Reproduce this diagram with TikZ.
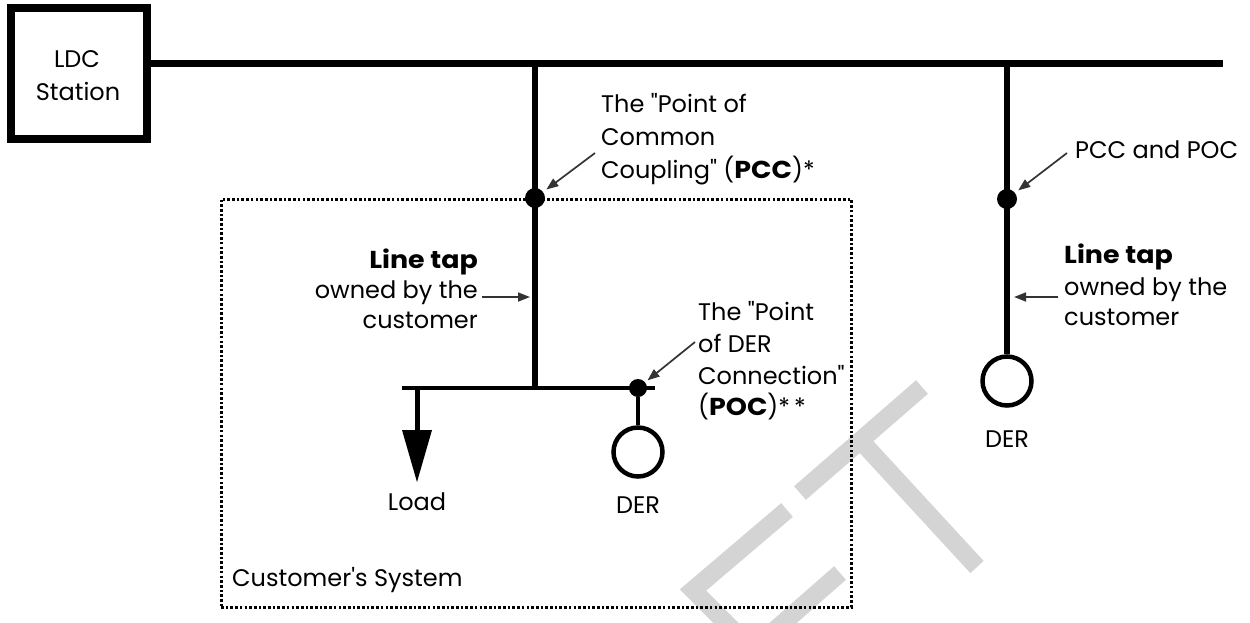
\documentclass[tikz,border=0pt]{standalone}
\usepackage{fontspec}
\newfontfamily\popfont{Poppins}
\usetikzlibrary{arrows.meta}
\newcommand{\hv}[1]{\scalebox{1.12}[1.02]{\textbf{#1}}}
\begin{document}
\begin{tikzpicture}[x=1pt,y=-1pt,
  bus/.style={line width=7pt},
  tapline/.style={line width=6pt},
  thinbus/.style={line width=4.5pt},
  dotnode/.style={circle, fill=black, inner sep=0pt, minimum size=20pt},
  gen/.style={circle, draw=black, line width=4.5pt, inner sep=0pt, minimum size=49pt},
  pointer/.style={line width=1.7pt, draw=black!80, -{Triangle[length=12pt,width=9pt]}},
  lbl/.style={inner sep=0pt, font=\popfont\fontsize{24}{30}\selectfont},
  wm/.style={line width=18pt, draw=black!17}
]
\clip (0,0) rectangle (1250,622);
\fill[white] (0,0) rectangle (1250,622);

% watermark
\draw[wm] (922,387) -- (800,493);
\draw[wm] (860,440) -- (977,567);
\draw[wm] (787,510) -- (693,590) -- (733,630);
\draw[wm] (840,573) -- (775,630);

% customer's system box
\node[draw=black, line width=3pt, dash pattern=on 2.6pt off 2.1pt, minimum width=630pt, minimum height=408pt, inner sep=0pt] (cust) at (536,403) {};

% LDC station
\node[draw=black, line width=8pt, minimum width=135.5pt, minimum height=131.5pt, inner sep=0pt] (ldc) at (78.75,73.25) {};
\node[lbl, anchor=base] (ldct1) at (77,67) {LDC};
\node[lbl, anchor=base] (ldct2) at (78,100) {Station};

% coordinates
\coordinate (busL) at (146,63.5);
\coordinate (busR) at (1223,63.5);
\coordinate (tap1) at (535,63.5);
\coordinate (tap2) at (1007,63.5);
\coordinate (j1) at (535,388);
\coordinate (sbL) at (402,388);
\coordinate (sbR) at (655,388);
\coordinate (ld) at (417,388);
\coordinate (ldtop) at (417,432);

% lines
\draw[bus] (busL) -- (busR);
\draw[tapline] (tap1) -- (j1);
\draw[thinbus] (sbL) -- (sbR);
\draw[line width=5pt] (ld) -- (ldtop);
\fill[black] (402,430) -- (432,430) -- (417,482) -- cycle;

\node[gen] (der1) at (638,452) {};
\node[gen] (der2) at (1007,381) {};
\node[dotnode] (pcc) at (535,198) {};
\node[dotnode, minimum size=18pt] (poc) at (638,388) {};
\draw[line width=4.5pt] (poc) -- (der1);
\draw[tapline] (tap2) -- (der2);
\node[dotnode] (pccpoc) at (1007,199) {};

% pointers
\coordinate (a1s) at (595,153);
\coordinate (a2s) at (1067,153);
\coordinate (a3s) at (482,297);
\coordinate (a3e) at (530,297);
\coordinate (a4s) at (1058,297);
\coordinate (a4e) at (1014,297);
\coordinate (a5s) at (695,342);
\draw[pointer, shorten >=4pt] (a1s) -- (pcc);
\draw[pointer, shorten >=4pt] (a2s) -- (pccpoc);
\draw[pointer] (a3s) -- (a3e);
\draw[pointer] (a4s) -- (a4e);
\draw[pointer, shorten >=3pt] (a5s) -- (poc);

% labels
\node[lbl, anchor=base west] (t1a) at (601,112) {The "Point of};
\node[lbl, anchor=base west] (t1b) at (601,145) {Common};
\node[lbl, anchor=base west] (t1c) at (601,178) {Coupling" (\hv{PCC})*};

\node[lbl, anchor=base west] (t2) at (1075,158) {PCC and POC};

\node[lbl, anchor=base west] (t3a) at (698,320) {The "Point};
\node[lbl, anchor=base west] (t3b) at (698,352) {of DER};
\node[lbl, anchor=base west] (t3c) at (698,384) {Connection"};
\node[lbl, anchor=base west] (t3d) at (698,415) {(\hv{POC})*\,*};

\node[lbl, anchor=base east] (t4a) at (478,268) {\hv{Line tap}};
\node[lbl, anchor=base east] (t4b) at (478,298) {owned by the};
\node[lbl, anchor=base east] (t4c) at (478,328) {customer};

\node[lbl, anchor=base west] (t5a) at (1064,263) {\hv{Line tap}};
\node[lbl, anchor=base west] (t5b) at (1064,295) {owned by the};
\node[lbl, anchor=base west] (t5c) at (1064,325) {customer};

\node[lbl, anchor=base] (t6) at (417,510) {Load};
\node[lbl, anchor=base] (t7) at (638,513) {DER};
\node[lbl, anchor=base] (t8) at (1007,447) {DER};
\node[lbl, anchor=base west] (t9) at (232,586) {Customer's System};
\end{tikzpicture}
\end{document}
